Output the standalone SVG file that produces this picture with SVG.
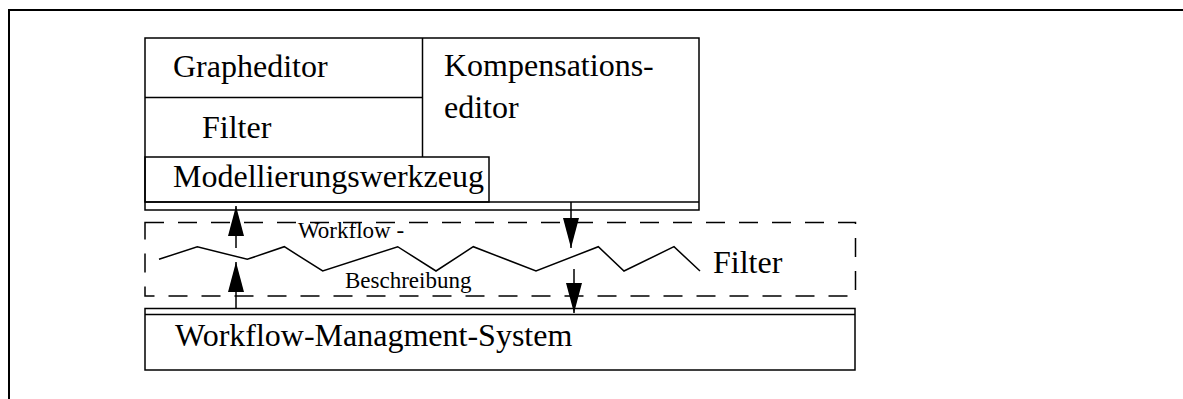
<svg xmlns="http://www.w3.org/2000/svg" width="1183" height="399" viewBox="0 0 1183 399">
<style>
.ln{fill:none;stroke:#000;stroke-width:1.5}
.big{font-family:"Liberation Serif","Times New Roman",serif;font-size:32px;fill:#000}
.small{font-family:"Liberation Serif","Times New Roman",serif;font-size:23px;fill:#000}
.dash{fill:none;stroke:#000;stroke-width:1.5;stroke-dasharray:19 14}
</style>
<defs>
<marker id="ah" markerUnits="userSpaceOnUse" viewBox="0 0 30 16" markerWidth="30" markerHeight="16" refX="30" refY="8" orient="auto">
<path d="M0,0 L30,8 L0,16 Z" fill="#000"/>
</marker>
</defs>
<rect width="1183" height="399" fill="#fff"/>
<path id="frame" d="M9,399 V10 H1183" fill="none" stroke="#000" stroke-width="2"/>
<g id="tool-box">
<rect class="ln" x="145" y="38" width="554" height="172"/>
<line class="ln" x1="145" y1="202" x2="699" y2="202"/>
<line class="ln" x1="422.5" y1="38" x2="422.5" y2="157"/>
<line class="ln" x1="145" y1="97.5" x2="422.5" y2="97.5"/>
<rect class="ln" x="145" y="157" width="344" height="45"/>
<text class="big" x="173" y="77">Grapheditor</text>
<text class="big" x="202" y="138">Filter</text>
<text class="big" x="444" y="76">Kompensations-</text>
<text class="big" x="444" y="118">editor</text>
<text class="big" x="173" y="187">Modellierungswerkzeug</text>
</g>
<g id="filter-region">
<rect class="dash" x="145" y="222.5" width="710.5" height="73.5"/>
<polyline class="ln" points="159,259.3 197.3,246.7 247.3,259.3 284.3,246.7 322.7,271 397.7,246.7 436,271 473.3,246.7 536,271 598.3,246.7 624,271 674,246.7 700,271"/>
<text class="small" x="298" y="238">Workflow -</text>
<text class="small" x="345" y="288">Beschreibung</text>
<text class="big" x="713" y="273">Filter</text>
</g>
<g id="wms-box">
<rect class="ln" x="145" y="308.5" width="710" height="61.5"/>
<line class="ln" x1="145" y1="314.5" x2="855" y2="314.5"/>
<text class="big" x="175" y="346">Workflow-Managment-System</text>
</g>
<g id="connectors">
<line class="ln" x1="236" y1="248" x2="236" y2="206" marker-end="url(#ah)"/>
<line class="ln" x1="236" y1="308.5" x2="236" y2="262" marker-end="url(#ah)"/>
<line class="ln" x1="571" y1="202" x2="571" y2="248" marker-end="url(#ah)"/>
<line class="ln" x1="574" y1="269" x2="574" y2="313" marker-end="url(#ah)"/>
</g>
</svg>
